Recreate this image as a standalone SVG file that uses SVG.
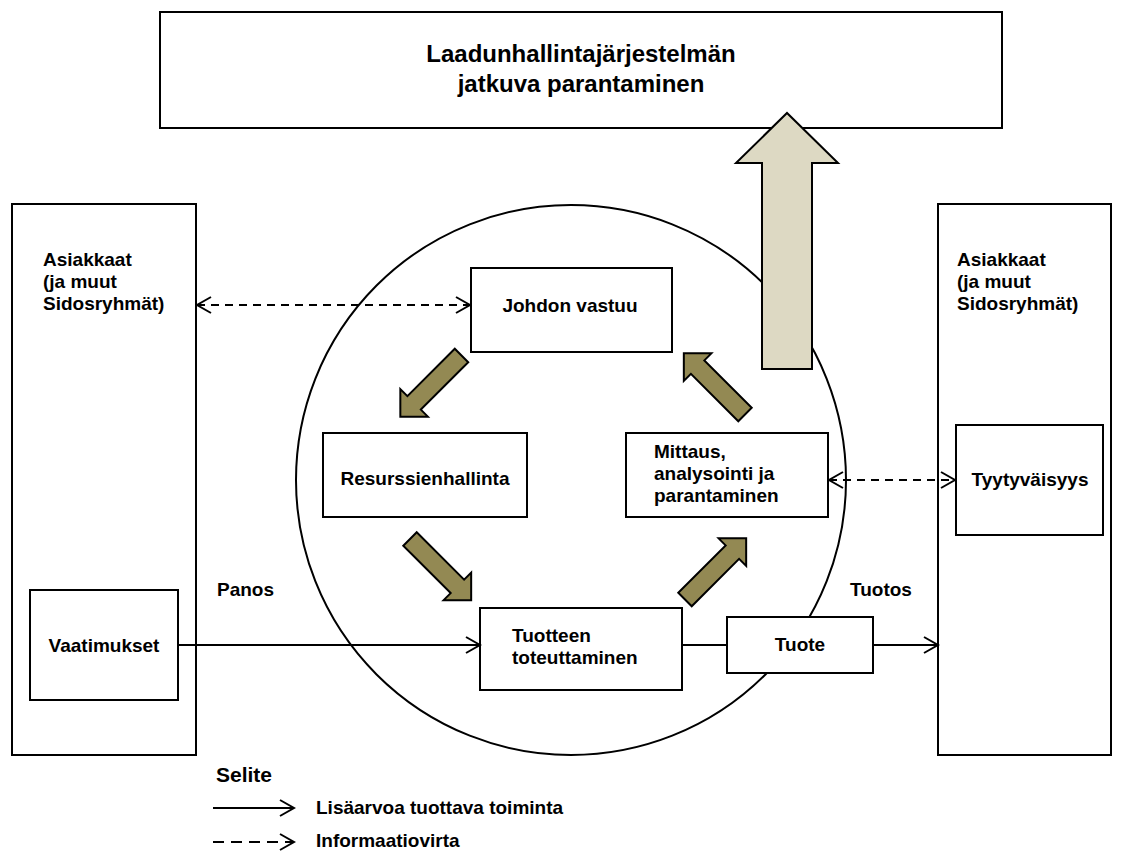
<svg xmlns="http://www.w3.org/2000/svg" width="1122" height="855" viewBox="0 0 1122 855">
<defs>
<style>
.box{fill:#fff;stroke:#000;stroke-width:2}
.t{font-family:"Liberation Sans",Arial,sans-serif;font-weight:bold;font-size:19px;fill:#000}
.tc{text-anchor:middle}
.ln{fill:none;stroke:#000;stroke-width:2}
.dash{stroke-dasharray:8 6}
.olive{fill:#938953;stroke:#000;stroke-width:2;stroke-linejoin:miter}
</style>
<marker id="ah" viewBox="0 0 18 18" refX="16" refY="9" markerWidth="18" markerHeight="18" markerUnits="userSpaceOnUse" orient="auto-start-reverse">
<path d="M2,1 L16,9 L2,17" fill="none" stroke="#000" stroke-width="2"/>
</marker>
<path id="blk" d="M0,-9.5 L67,-9.5 L67,-19.5 L86.5,0 L67,19.5 L67,9.5 L0,9.5 Z"/>
</defs>
<rect width="1122" height="855" fill="#fff"/>

<g id="top-box">
<rect class="box" x="160" y="12" width="842" height="116"/>
<text class="t tc" x="581" y="62" style="font-size:24px">Laadunhallintajärjestelmän</text>
<text class="t tc" x="581" y="92" style="font-size:24px">jatkuva parantaminen</text>
</g>

<g id="process-circle">
<circle cx="571" cy="480" r="275" fill="none" stroke="#000" stroke-width="2"/>
</g>

<g id="left-customers">
<rect class="box" x="12" y="204" width="184" height="551"/>
<text class="t" x="43" y="266">Asiakkaat</text>
<text class="t" x="43" y="288">(ja muut</text>
<text class="t" x="43" y="310">Sidosryhmät)</text>
</g>

<g id="vaatimukset">
<rect class="box" x="30" y="590" width="148" height="110"/>
<text class="t tc" x="104" y="652">Vaatimukset</text>
</g>

<g id="right-customers">
<rect class="box" x="938" y="204" width="173" height="551"/>
<text class="t" x="957" y="266">Asiakkaat</text>
<text class="t" x="957" y="288">(ja muut</text>
<text class="t" x="957" y="310">Sidosryhmät)</text>
</g>

<g id="tyytyvaisyys">
<rect class="box" x="956" y="425" width="147" height="110"/>
<text class="t tc" x="1030" y="486">Tyytyväisyys</text>
</g>

<g id="johdon-vastuu">
<rect class="box" x="471" y="268" width="201" height="84"/>
<text class="t tc" x="570" y="312">Johdon vastuu</text>
</g>

<g id="resurssienhallinta">
<rect class="box" x="323" y="433" width="204" height="84"/>
<text class="t tc" x="425" y="485">Resurssienhallinta</text>
</g>

<g id="mittaus">
<rect class="box" x="626" y="433" width="202" height="84"/>
<text class="t" x="654" y="458">Mittaus,</text>
<text class="t" x="654" y="480">analysointi ja</text>
<text class="t" x="654" y="502">parantaminen</text>
</g>

<g id="tuotteen-toteuttaminen">
<rect class="box" x="480" y="608" width="202" height="82"/>
<text class="t" x="512" y="642">Tuotteen</text>
<text class="t" x="512" y="664">toteuttaminen</text>
</g>

<g id="tuote">
<rect class="box" x="727" y="617" width="146" height="56"/>
<text class="t tc" x="800" y="651">Tuote</text>
</g>

<g id="big-arrow">
<path d="M762,369 L762,163 L736,163 L787,113 L838,163 L812,163 L812,369 Z" fill="#DDD9C3" stroke="#000" stroke-width="2"/>
</g>

<g id="cycle-arrows">
<use href="#blk" class="olive" transform="translate(461.5,355.5) rotate(135)"/>
<use href="#blk" class="olive" transform="translate(410,539) rotate(45)"/>
<use href="#blk" class="olive" transform="translate(685,599.5) rotate(-45)"/>
<use href="#blk" class="olive" transform="translate(745,414.5) rotate(-135)"/>
</g>

<g id="connectors">
<line class="ln" x1="178" y1="645" x2="480" y2="645" marker-end="url(#ah)"/>
<line class="ln" x1="682" y1="645" x2="727" y2="645"/>
<line class="ln" x1="873" y1="645" x2="938" y2="645" marker-end="url(#ah)"/>
<line class="ln dash" x1="197" y1="305" x2="470" y2="305" marker-start="url(#ah)" marker-end="url(#ah)"/>
<line class="ln dash" x1="829" y1="480" x2="955" y2="480" marker-start="url(#ah)" marker-end="url(#ah)"/>
</g>

<g id="labels">
<text class="t" x="217" y="596">Panos</text>
<text class="t" x="850" y="596">Tuotos</text>
</g>

<g id="legend">
<text class="t" x="216" y="782" style="font-size:21px">Selite</text>
<line class="ln" x1="213" y1="808" x2="294" y2="808" marker-end="url(#ah)"/>
<text class="t" x="316" y="814">Lisäarvoa tuottava toiminta</text>
<line class="ln" x1="213" y1="842" x2="294" y2="842" style="stroke-dasharray:11 7" marker-end="url(#ah)"/>
<text class="t" x="316" y="847">Informaatiovirta</text>
</g>
</svg>
